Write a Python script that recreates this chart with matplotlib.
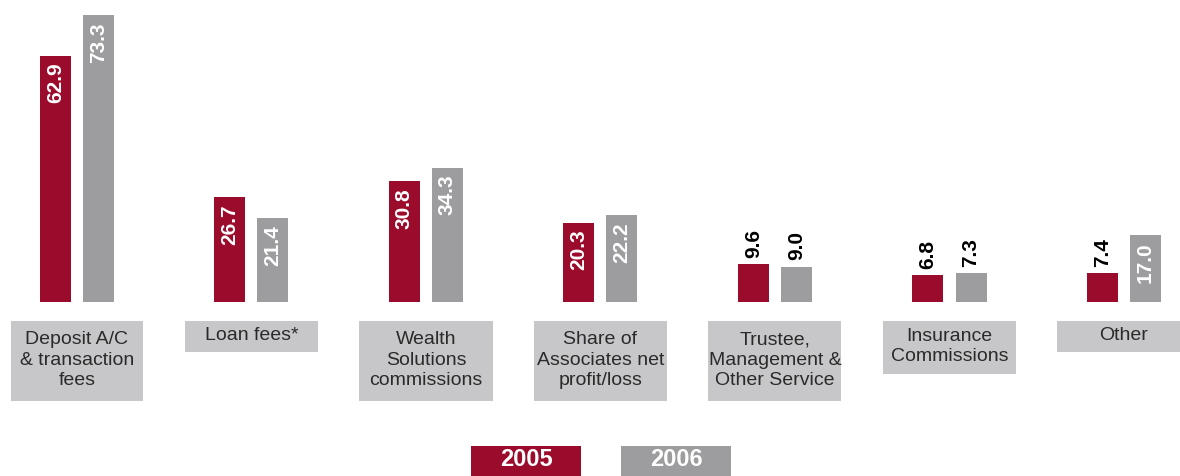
import matplotlib.pyplot as plt
from matplotlib.patches import Rectangle
from matplotlib.transforms import blended_transform_factory

plt.rcParams['font.family'] = ['Liberation Sans', 'DejaVu Sans']

categories = [
    "Deposit A/C\n& transaction\nfees",
    "Loan fees*",
    "Wealth\nSolutions\ncommissions",
    "Share of\nAssociates net\nprofit/loss",
    "Trustee,\nManagement &\nOther Service",
    "Insurance\nCommissions",
    "Other",
]
values_2005 = [62.9, 26.7, 30.8, 20.3, 9.6, 6.8, 7.4]
values_2006 = [73.3, 21.4, 34.3, 22.2, 9.0, 7.3, 17.0]
years = ["2005", "2006"]

RED = "#9b0b2b"
GREY = "#9d9d9f"
BOX = "#c7c7c9"

W, H = 1180, 476
fig = plt.figure(figsize=(W / 100, H / 100), dpi=100)

# bar axes: baseline at y=302px, top of axes at y=15px
ax = fig.add_axes([0, (H - 302) / H, 1, (302 - 15) / H])
ax.set_ylim(0, 73.3)
ax.set_xlim(-77 / 174.5, (W - 77) / 174.5)
ax.axis("off")

bw = 31 / 174.5
off = 21.5 / 174.5
x = list(range(len(categories)))
series = [(values_2005, RED, -off), (values_2006, GREY, off)]

for vals, col, dx in series:
    ax.bar([i + dx for i in x], vals, width=bw, color=col)
    for i, v in zip(x, vals):
        if v >= 15:
            ax.text(i + dx, v - 1.8, f"{v:.1f}", rotation=90, ha="center",
                    va="top", color="white", fontsize=15, fontweight="bold")
        else:
            ax.text(i + dx, v + 1.6, f"{v:.1f}", rotation=90, ha="center",
                    va="bottom", color="black", fontsize=15, fontweight="bold")

# grey category boxes under each pair of bars
tr = blended_transform_factory(ax.transData, fig.transFigure)
box_w = 133 / 174.5
box_top = (H - 321) / H
for i, label in enumerate(categories):
    n = label.count("\n") + 1
    h_px = {1: 31, 2: 53, 3: 80}[n]
    h = h_px / H
    ax.add_patch(Rectangle((i - box_w / 2, box_top - h), box_w, h,
                           transform=tr, color=BOX, clip_on=False, lw=0))
    ax.text(i, box_top - h / 2 + 0.002, label, transform=tr, ha="center",
            va="center", fontsize=14, color="#2a2a2a", linespacing=1.25)

# legend swatches
for (lx, col), yr in zip([(471, RED), (621, GREY)], years):
    fig.patches.append(Rectangle((lx / W, 0), 110 / W, 30 / H,
                                 transform=fig.transFigure, color=col, lw=0))
    fig.text((lx + 55) / W, 16 / H, yr, ha="center", va="center",
             color="white", fontsize=17, fontweight="bold")

fig.savefig("out.png", dpi=100)
